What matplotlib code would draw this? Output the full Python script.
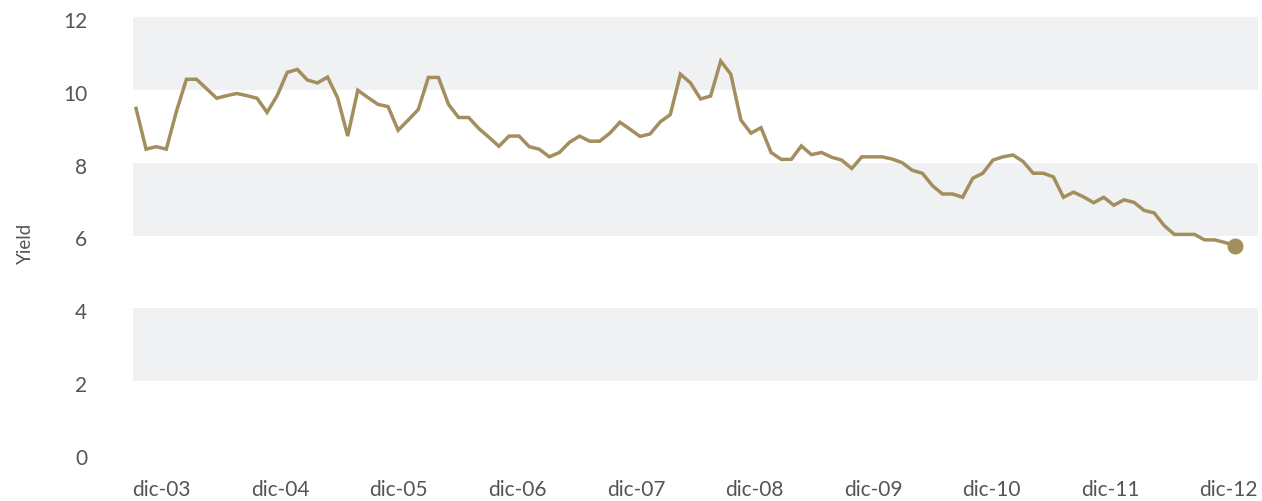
import matplotlib
matplotlib.use("Agg")
import matplotlib.pyplot as plt
import matplotlib.transforms as mtransforms
import numpy as np

yield_values = [
    9.49, 8.37, 8.44, 8.37, 9.40, 10.29, 10.29, 10.03, 9.77, 9.84,
    9.90, 9.84, 9.77, 9.38, 9.84, 10.48, 10.56, 10.27, 10.19, 10.35,
    9.78, 8.73, 9.99, 9.79, 9.60, 9.54, 8.89, 9.17, 9.46, 10.34,
    10.34, 9.60, 9.24, 9.24, 8.94, 8.70, 8.45, 8.73, 8.73, 8.44,
    8.37, 8.16, 8.28, 8.56, 8.73, 8.59, 8.59, 8.81, 9.11, 8.92,
    8.72, 8.79, 9.12, 9.32, 10.43, 10.19, 9.75, 9.83, 10.79, 10.43,
    9.17, 8.81, 8.96, 8.28, 8.09, 8.09, 8.46, 8.22, 8.28, 8.15,
    8.07, 7.84, 8.16, 8.16, 8.16, 8.10, 8.00, 7.79, 7.71, 7.37,
    7.14, 7.14, 7.05, 7.57, 7.71, 8.07, 8.16, 8.21, 8.03, 7.71,
    7.71, 7.61, 7.05, 7.19, 7.06, 6.90, 7.05, 6.83, 6.98, 6.91,
    6.69, 6.62, 6.27, 6.03, 6.03, 6.03, 5.88, 5.88, 5.81, 5.72,
]
x_labels = ["dic-03", "dic-04", "dic-05", "dic-06", "dic-07",
            "dic-08", "dic-09", "dic-10", "dic-11", "dic-12"]
y_ticks = [0, 2, 4, 6, 8, 10, 12]
band_ranges = [(2, 4), (6, 8), (10, 12)]

LINE = "#A38F5E"
BAND = "#F0F1F3"
TEXT = "#555555"
FONT = "Lato"

fig = plt.figure(figsize=(12.62, 5.01), dpi=100)
ax = fig.add_axes([133 / 1262, 1 - 454 / 501, (1258 - 133) / 1262, (454 - 17) / 501])

x = np.arange(len(yield_values))
for lo, hi in band_ranges:
    ax.axhspan(lo, hi, color=BAND, lw=0, zorder=0)

ax.plot(x, yield_values, color=LINE, lw=2.5, solid_joinstyle="miter", zorder=3)
ax.plot(x[-1], yield_values[-1], "o", color=LINE, ms=10.5, zorder=4)

ax.set_xlim(-0.3, len(yield_values) - 1 + 2.3)
ax.set_ylim(0, 12)

tick_pos = [2.55 + 11.76 * i for i in range(len(x_labels))]
ax.set_xticks(tick_pos)
ax.set_xticklabels(x_labels, fontsize=15, color=TEXT, family=FONT)
ax.set_yticks(y_ticks)
ax.set_yticklabels([str(v) for v in y_ticks], fontsize=15, color=TEXT, family=FONT)
ax.tick_params(axis="both", length=0)
ax.tick_params(axis="y", pad=33)
ax.tick_params(axis="x", pad=19)

offset = mtransforms.ScaledTranslation(0, -3 / 100, fig.dpi_scale_trans)
for lab in ax.get_yticklabels():
    lab.set_transform(lab.get_transform() + offset)

for s in ax.spines.values():
    s.set_visible(False)

fig.text(25 / 1262, 1 - 243 / 501, "Yield", rotation=90, ha="center", va="center",
         fontsize=13.5, color=TEXT, family=FONT)

fig.savefig("out.png", dpi=100, facecolor="white")
